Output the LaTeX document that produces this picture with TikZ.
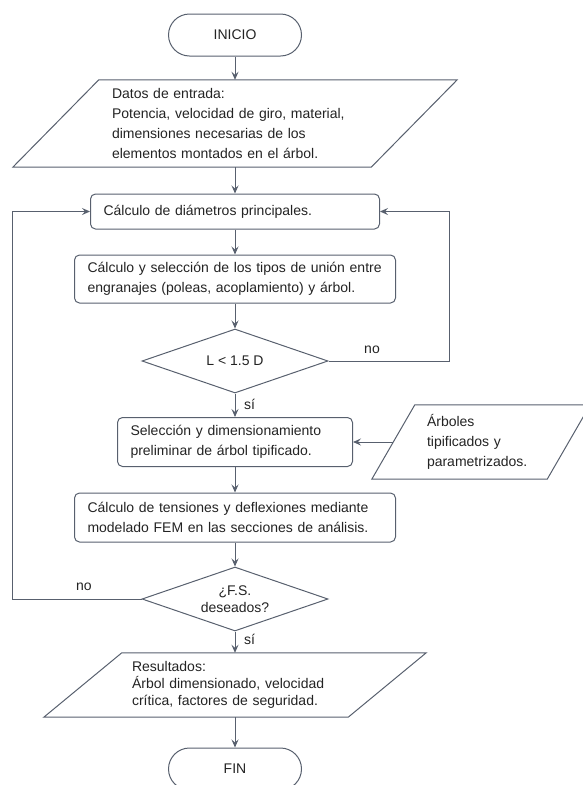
\documentclass[tikz,border=0pt]{standalone}
\usepackage{fontspec}
\setmainfont{Liberation Sans}
\usetikzlibrary{shapes.geometric,arrows.meta}

\definecolor{linea}{RGB}{88,96,110}
\definecolor{texto}{RGB}{35,35,35}

\tikzset{
  base/.style={draw=linea, line width=1pt, text=texto, font=\fontsize{14}{20}\selectfont},
  terminal/.style={base, rectangle, rounded corners=21pt, minimum width=133pt, minimum height=42pt},
  proceso/.style={base, rectangle, rounded corners=5pt, align=left, inner xsep=13pt, inner ysep=0pt},
  decision/.style={base, diamond, aspect=2.9, inner sep=0pt, minimum width=186pt, minimum height=64pt, align=center},
  entrada/.style={text=texto, font=\fontsize{14}{20}\selectfont, align=left, inner sep=0pt},
  flecha/.style={draw=linea, line width=1pt, -{Stealth[length=8pt,width=7pt,inset=3pt]}},
  etiqueta/.style={text=texto, font=\fontsize{14}{17}\selectfont, inner sep=0pt}
}

% marco de entrada/salida (paralelogramo) alrededor de un nodo
\newcommand{\marcoES}[2]{%
  \draw[draw=linea, line width=1pt] ([xshift=-#2]#1.south west) -- ([xshift=-#2]#1.south east)
    -- ([xshift=#2]#1.north east) -- ([xshift=#2]#1.north west) -- cycle;}

\begin{document}
\begin{tikzpicture}[x=1pt,y=-1pt]
  \useasboundingbox (0,0) rectangle (582,785);

  \node[terminal] (inicio) at (235,35) {INICIO};
  \node[entrada, minimum width=358pt, minimum height=87pt, text width=246pt] (datos) at (235,123.5)
    {Datos de entrada:\\Potencia, velocidad de giro, material,\\dimensiones necesarias de los\\elementos montados en el árbol.};
  \marcoES{datos}{43pt}
  \node[proceso, text width=263pt, minimum height=35pt] (diam) at (235,211.5) {Cálculo de diámetros principales.};
  \node[proceso, text width=295pt, minimum height=48pt] (union) at (235,279)
    {Cálculo y selección de los tipos de unión entre\\engranajes (poleas, acoplamiento) y árbol.};
  \node[decision] (dec1) at (235,361) {L < 1.5 D};
  \node[proceso, text width=209pt, minimum height=49pt] (selec) at (235,442)
    {Selección y dimensionamiento\\preliminar de árbol tipificado.};
  \node[entrada, minimum width=175pt, minimum height=74pt, text width=108pt] (arbol) at (481,442)
    {Árboles\\tipificados y\\parametrizados.};
  \marcoES{arbol}{21.5pt}
  \node[proceso, text width=295pt, minimum height=49pt] (fem) at (235,517.5)
    {Cálculo de tensiones y deflexiones mediante\\modelado FEM en las secciones de análisis.};
  \node[decision, font=\fontsize{14}{17}\selectfont] (dec2) at (235,599) {¿F.S.\\deseados?};
  \node[entrada, font=\fontsize{14}{17}\selectfont, minimum width=304pt, minimum height=64pt, text width=206pt] (result) at (235,685)
    {Resultados:\\Árbol dimensionado, velocidad\\crítica, factores de seguridad.};
  \marcoES{result}{39pt}
  \node[terminal] (fin) at (235,769) {FIN};

  % flujo principal
  \draw[flecha] (inicio) -- (datos);
  \draw[flecha] (datos) -- (diam);
  \draw[flecha] (diam) -- (union);
  \draw[flecha] (union) -- (dec1);
  \draw[flecha] (dec1) -- (selec);
  \draw[flecha] (arbol.west) -- (selec.east);
  \draw[flecha] (selec) -- (fem);
  \draw[flecha] (fem) -- (dec2);
  \draw[flecha] (dec2) -- (result);
  \draw[flecha] (result) -- (fin);

  % retornos
  \draw[flecha] (dec1.east) -- ++(121,0) |- (diam.east);
  \draw[flecha] (dec2.west) -- ++(-129,0) |- (diam.west);

  \node[etiqueta] (no1) at (372,350) {no};
  \node[etiqueta, anchor=west] (si1) at (244,404) {sí};
  \node[etiqueta] (no2) at (84,587) {no};
  \node[etiqueta, anchor=west] (si2) at (244,639) {sí};
\end{tikzpicture}
\end{document}
